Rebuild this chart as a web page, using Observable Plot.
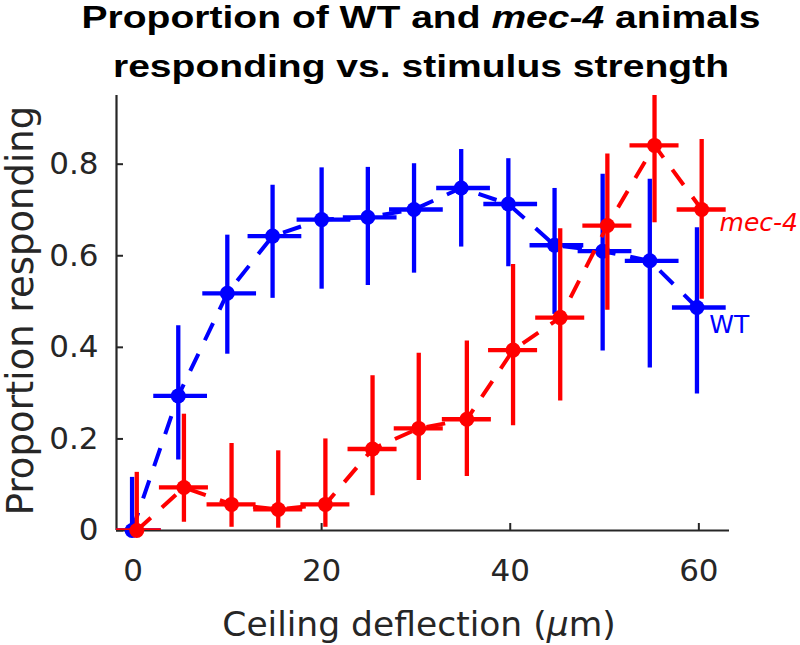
<!DOCTYPE html>
<html>
<head>
<meta charset="utf-8">
<script src="https://cdn.jsdelivr.net/npm/d3@7"></script>
<script src="https://cdn.jsdelivr.net/npm/@observablehq/plot@0.6"></script>
<style>
html, body { margin: 0; padding: 0; background: #fff; }
#wrap { position: relative; width: 800px; height: 645px; overflow: hidden; }
#chart { position: absolute; left: 0; top: 0; }
.title { position: absolute; left: 0; width: 842px; text-align: center;
  font-family: "Liberation Sans", Arial, sans-serif; font-weight: bold;
  font-size: 32px; line-height: 32px; color: #000; white-space: nowrap;
  transform: scaleX(1.22); transform-origin: 421px 50%; }
</style>
</head>
<body>
<div id="wrap">
  <div id="chart"></div>
  <div class="title" style="top:1px">Proportion of WT and <i>mec-4</i> animals</div>
  <div class="title" style="top:50px">responding vs. stimulus strength</div>
</div>
<script>
// ---- data ----
const xWT  = [-0.1, 4.8, 10.0, 14.8, 20.0, 24.9, 29.8, 34.8, 39.8, 44.7, 49.8, 54.8, 59.8];
const yWT  = [0.000, 0.294, 0.518, 0.643, 0.679, 0.684, 0.701, 0.748, 0.713, 0.623, 0.610, 0.589, 0.487];
const loWT = [0.000, 0.154, 0.385, 0.507, 0.527, 0.535, 0.562, 0.619, 0.576, 0.472, 0.392, 0.355, 0.298];
const hiWT = [0.116, 0.447, 0.645, 0.754, 0.792, 0.793, 0.801, 0.832, 0.812, 0.747, 0.778, 0.767, 0.661];
const xErrWT = [2.6, 3.1];

const xMec  = [0.4, 5.4, 10.45, 15.4, 20.4, 25.4, 30.3, 35.4, 40.3, 45.3, 50.3, 55.3, 60.3];
const yMec  = [0.000, 0.094, 0.057, 0.046, 0.057, 0.178, 0.223, 0.243, 0.394, 0.465, 0.666, 0.841, 0.701];
const loMec = [0.000, 0.018, 0.007, 0.005, 0.007, 0.076, 0.109, 0.118, 0.229, 0.283, 0.481, 0.672, 0.505];
const hiMec = [0.127, 0.254, 0.190, 0.174, 0.200, 0.338, 0.387, 0.414, 0.581, 0.659, 0.822, 0.950, 0.854];
const xErrMec = [2.6, 2.6];

const xTicks = [0, 20, 40, 60];
const yTicks = [0, 0.2, 0.4, 0.6, 0.8];
const xDomain = [-1.75, 63.25];
const yDomain = [0, 0.95];

const xLabel = "Ceiling deflection (μm)";
const yLabel = "Proportion responding";
const seriesLabels = [
  {text: "mec-4", x: 62.2, y: 0.653},
  {text: "WT", x: 61.1, y: 0.432}
];

const blue = "#0000ff", red = "#ff0000", axisColor = "#262626";

const wt = xWT.map((x, i) => ({x, y: yWT[i], lo: loWT[i], hi: hiWT[i]}));
const mec = xMec.map((x, i) => ({x, y: yMec[i], lo: loMec[i], hi: hiMec[i]}));

function series(data, color, err) {
  return [
    Plot.ruleX(data, {x: "x", y1: "lo", y2: "hi", stroke: color, strokeWidth: 4.3, clip: true}),
    Plot.ruleY(data, {y: "y", x1: d => d.x - err[0], x2: d => d.x + err[1], stroke: color, strokeWidth: 4.3, clip: true}),
    Plot.line(data, {x: "x", y: "y", stroke: color, strokeWidth: 4, strokeDasharray: "19,15", strokeLinecap: "butt"}),
    Plot.dot(data, {x: "x", y: "y", r: 7.5, fill: color})
  ];
}

const W = 800, H = 645, mL = 116, mR = 71, mT = 95, mB = 115;
const frameW = W - mL - mR, frameH = H - mT - mB;

const chart = Plot.plot({
  width: W, height: H,
  marginLeft: mL, marginRight: mR, marginTop: mT, marginBottom: mB,
  style: {fontFamily: "'DejaVu Sans', sans-serif", background: "white", color: axisColor},
  x: {domain: xDomain},
  y: {domain: yDomain},
  marks: [
    Plot.axisX(xTicks, {tickSize: 0, tickPadding: 28, fontSize: 31, label: null}),
    Plot.axisY(yTicks, {tickSize: 0, tickPadding: 18, fontSize: 31, label: null, tickFormat: d => String(d)}),
    Plot.tickX(xTicks, {x: d => d, insetTop: frameH - 7, stroke: axisColor, strokeWidth: 2}),
    Plot.tickY(yTicks, {y: d => d, insetRight: frameW - 7, stroke: axisColor, strokeWidth: 2}),
    Plot.ruleY([yDomain[0]], {stroke: axisColor, strokeWidth: 2.2}),
    Plot.ruleX([xDomain[0]], {stroke: axisColor, strokeWidth: 2.2}),
    ...series(wt, blue, xErrWT),
    ...series(mec, red, xErrMec),
    Plot.text([seriesLabels[0]], {x: "x", y: "y", text: "text", fill: red, fontStyle: "italic", fontSize: 25, textAnchor: "start", lineAnchor: "bottom"}),
    Plot.text([seriesLabels[1]], {x: "x", y: "y", text: "text", fill: blue, fontSize: 25, textAnchor: "start", lineAnchor: "bottom"}),
    Plot.text([xLabel], {frameAnchor: "bottom", dy: 105, dx: -4, textAnchor: "middle", lineAnchor: "bottom", fontSize: 34.5, fill: axisColor}),
    Plot.text([yLabel], {frameAnchor: "left", rotate: -90, dx: -83.7, dy: -2.5, textAnchor: "middle", lineAnchor: "bottom", fontSize: 37, fill: axisColor})
  ]
});
document.getElementById("chart").appendChild(chart);

// italic mu in the x label (as in the reference)
d3.select(chart).selectAll("text").each(function() {
  const t = d3.select(this);
  if (t.text() === xLabel) {
    const parts = xLabel.split("μ");
    t.text(null);
    t.append("tspan").text(parts[0]);
    t.append("tspan").attr("font-style", "italic").text("μ");
    t.append("tspan").text(parts[1]);
  }
});
</script>
</body>
</html>
